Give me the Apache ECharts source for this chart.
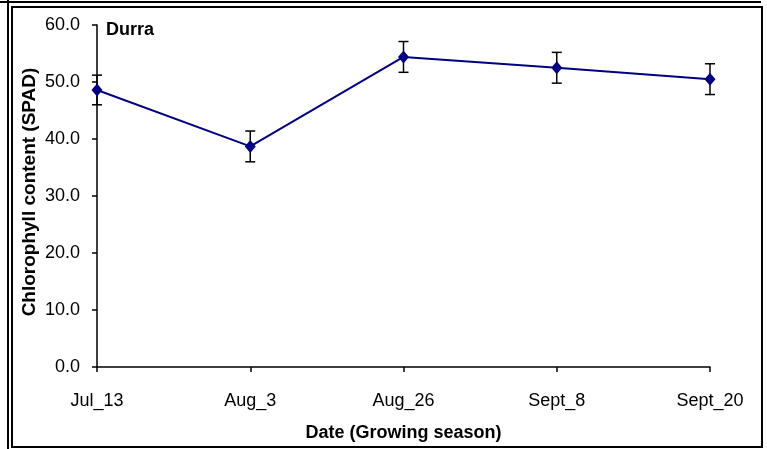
<!DOCTYPE html>
<html>
<head>
<meta charset="utf-8">
<script src="https://cdn.jsdelivr.net/npm/echarts@6/dist/echarts.min.js"></script>
<style>
  html, body { margin: 0; padding: 0; background: #fff; }
  #chart { width: 767px; height: 449px; }
</style>
</head>
<body>
<div id="chart"></div>
<script>
// Sampling dates over the growing season
const dates = ['Jul_13', 'Aug_3', 'Aug_26', 'Sept_8', 'Sept_20'];
// Mean SPAD chlorophyll readings for Durra
const spadMean = [48.6, 38.7, 54.4, 52.5, 50.5];
// Error bar half-widths (±)
const spadError = [2.6, 2.7, 2.7, 2.7, 2.7];
// Y-axis tick settings
const yTicks = { min: 0, max: 60, interval: 10 };

const FONT = '"Liberation Sans", Arial, sans-serif';

const chart = echarts.init(document.getElementById('chart'), null, { renderer: 'canvas' });

const errorData = dates.map((d, i) => [i, spadMean[i] - spadError[i], spadMean[i] + spadError[i]]);

chart.setOption({
  animation: false,
  backgroundColor: '#fff',
  grid: { left: 97, right: 57, top: 25, bottom: 82, containLabel: false },
  xAxis: {
    type: 'category',
    data: dates,
    boundaryGap: false,
    name: 'Date (Growing season)',
    nameLocation: 'middle',
    nameGap: 57,
    nameTextStyle: { fontFamily: FONT, fontSize: 18, fontWeight: 'bold', color: '#000' },
    axisLine: { lineStyle: { color: '#000', width: 1.5 } },
    axisTick: { show: true, alignWithLabel: true, length: 5, lineStyle: { color: '#000', width: 1.5 } },
    axisLabel: { fontFamily: FONT, fontSize: 18, color: '#000', margin: 25 },
    splitLine: { show: false }
  },
  yAxis: {
    type: 'value',
    min: yTicks.min,
    max: yTicks.max,
    interval: yTicks.interval,
    name: 'Chlorophyll content (SPAD)',
    nameLocation: 'middle',
    nameGap: 58,
    nameMoveOverlap: false,
    nameTextStyle: { fontFamily: FONT, fontSize: 19, fontWeight: 'bold', color: '#000', padding: [0, 0, 0, 8] },
    axisLine: { show: true, lineStyle: { color: '#000', width: 1.5 } },
    axisTick: { show: true, length: 5, lineStyle: { color: '#000', width: 1.5 } },
    axisLabel: { fontFamily: FONT, fontSize: 18, color: '#000', margin: 17, formatter: v => v.toFixed(1) },
    splitLine: { show: false }
  },
  graphic: [
    // outer frame lines
    { type: 'line', shape: { x1: 0, y1: 2, x2: 761, y2: 2 }, style: { stroke: '#000', lineWidth: 2 }, z: 100 },
    { type: 'line', shape: { x1: 8, y1: 0, x2: 8, y2: 449 }, style: { stroke: '#000', lineWidth: 2 }, z: 100 },
    // inner chart border
    { type: 'rect', shape: { x: 12, y: 7, width: 750, height: 440 }, style: { fill: 'none', stroke: '#000', lineWidth: 2 }, z: 100 },
    // panel title
    { type: 'text', left: 106, top: 21, style: { text: 'Durra', font: 'bold 18px ' + FONT, fill: '#000' }, z: 100 }
  ],
  series: [
    {
      type: 'custom',
      name: 'error',
      data: errorData,
      z: 3,
      renderItem: function (params, api) {
        const x = api.value(0);
        const lo = api.coord([x, api.value(1)]);
        const hi = api.coord([x, api.value(2)]);
        const cap = 5;
        const style = { stroke: '#000', lineWidth: 1.5 };
        return {
          type: 'group',
          children: [
            { type: 'line', shape: { x1: lo[0], y1: lo[1], x2: hi[0], y2: hi[1] }, style },
            { type: 'line', shape: { x1: hi[0] - cap, y1: hi[1], x2: hi[0] + cap, y2: hi[1] }, style },
            { type: 'line', shape: { x1: lo[0] - cap, y1: lo[1], x2: lo[0] + cap, y2: lo[1] }, style }
          ]
        };
      }
    },
    {
      type: 'line',
      name: 'SPAD',
      data: spadMean,
      z: 4,
      symbol: 'diamond',
      symbolSize: [11, 13],
      lineStyle: { color: '#000080', width: 2 },
      itemStyle: { color: '#000080' }
    }
  ]
});
</script>
</body>
</html>
